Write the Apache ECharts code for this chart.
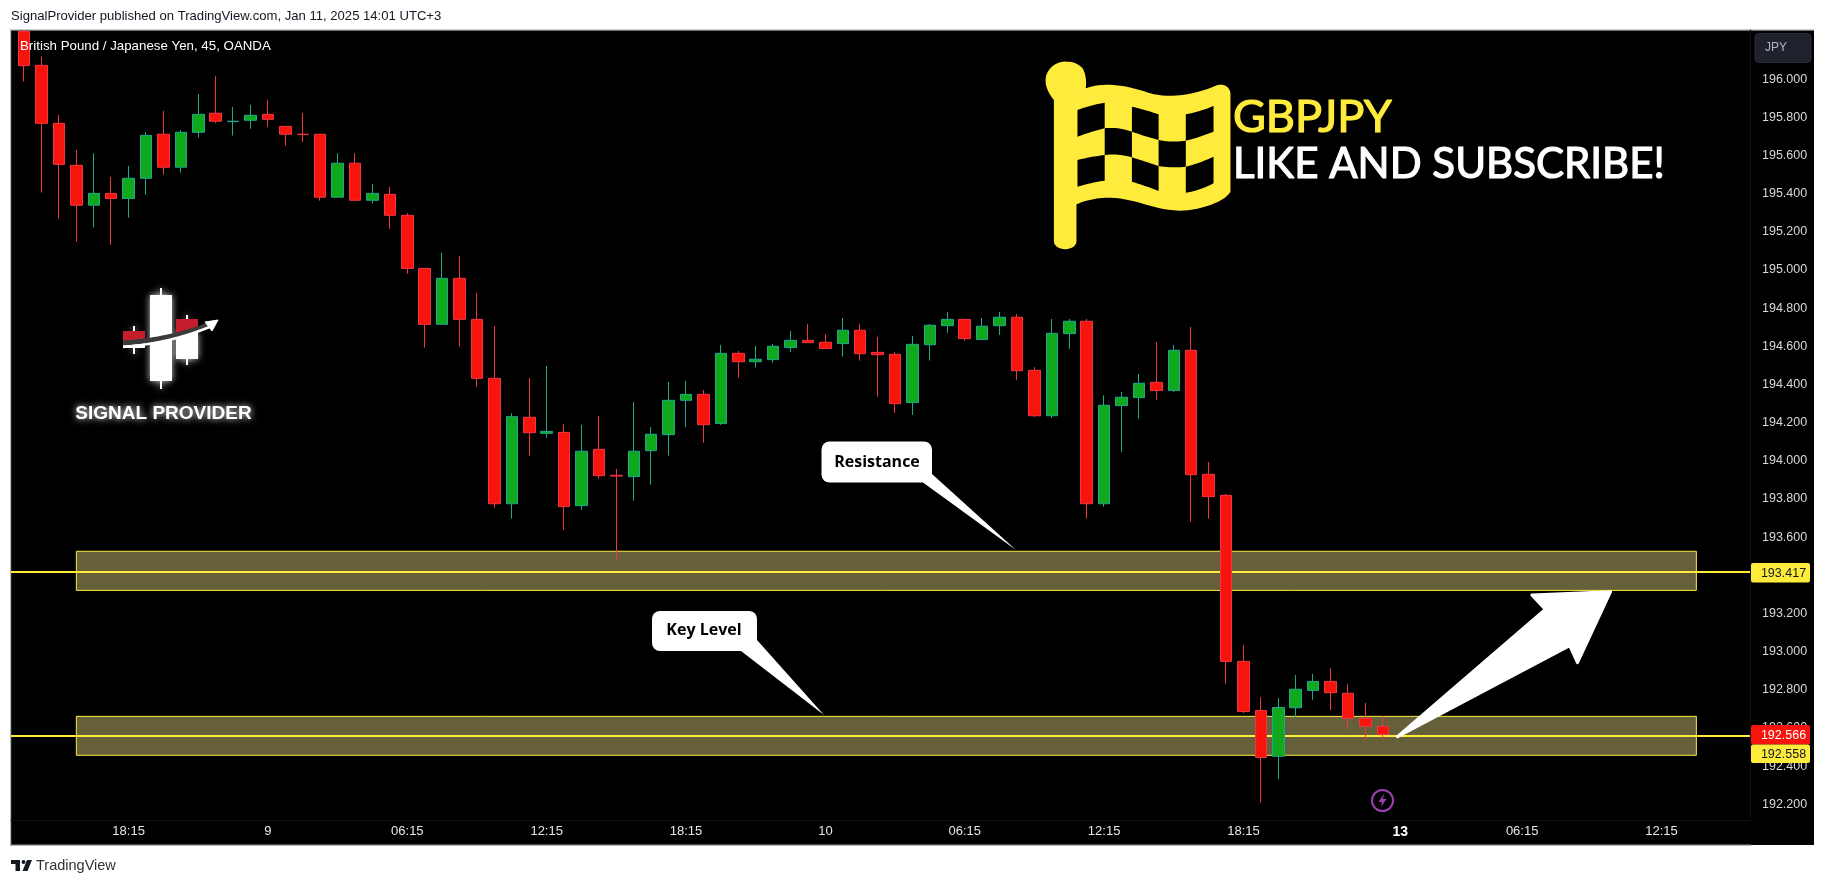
<!DOCTYPE html>
<html><head><meta charset="utf-8">
<script src="https://cdn.jsdelivr.net/npm/echarts@6/dist/echarts.min.js"></script>
<style>html,body{margin:0;padding:0;background:#fff}#c{width:1825px;height:885px}</style>
</head><body><div id="c"></div>
<script>
const opens = [196.25,196.072,195.768,195.548,195.339,195.401,195.374,195.480,195.711,195.538,195.721,195.821,195.777,195.784,195.815,195.752,195.711,195.711,195.381,195.559,195.365,195.396,195.286,195.008,194.715,194.956,194.741,194.432,193.775,194.228,194.144,194.149,193.765,194.060,193.924,193.917,194.053,194.137,194.317,194.348,194.195,194.563,194.519,194.530,194.593,194.631,194.621,194.614,194.684,194.568,194.558,194.305,194.608,194.708,194.741,194.635,194.708,194.752,194.474,194.236,194.666,194.731,193.775,194.289,194.331,194.411,194.368,194.579,193.929,193.819,192.949,192.692,192.452,192.706,192.797,192.844,192.782,192.651,192.609];
const closes = [196.070,195.768,195.553,195.339,195.401,195.374,195.480,195.705,195.538,195.721,195.815,195.779,195.779,195.810,195.789,195.711,195.709,195.381,195.559,195.365,195.401,195.286,195.008,194.715,194.956,194.741,194.432,193.775,194.231,194.147,194.154,193.760,194.050,193.922,193.920,194.050,194.139,194.317,194.348,194.189,194.563,194.519,194.532,194.600,194.631,194.619,194.588,194.684,194.561,194.556,194.299,194.610,194.710,194.741,194.640,194.705,194.752,194.472,194.236,194.668,194.731,193.775,194.291,194.333,194.406,194.368,194.579,193.927,193.812,192.949,192.686,192.446,192.708,192.803,192.844,192.785,192.651,192.609,192.566];
const lows = [195.987,195.405,195.269,195.148,195.222,195.132,195.274,195.394,195.499,195.510,195.693,195.770,195.704,195.740,195.749,195.651,195.670,195.363,195.381,195.365,195.347,195.216,194.980,194.593,194.715,194.598,194.388,193.754,193.697,194.027,194.121,193.637,193.742,193.905,193.484,193.791,193.875,194.027,194.177,194.095,194.188,194.436,194.488,194.514,194.570,194.619,194.588,194.546,194.525,194.336,194.251,194.240,194.525,194.670,194.629,194.635,194.659,194.423,194.230,194.224,194.586,193.697,193.760,194.046,194.221,194.319,194.361,193.681,193.697,192.832,192.678,192.209,192.333,192.656,192.747,192.694,192.595,192.539,192.539];
const highs = [196.255,196.118,195.812,195.629,195.611,195.487,195.545,195.723,195.833,195.733,195.922,196.016,195.854,195.864,195.891,195.752,195.822,195.711,195.611,195.611,195.450,195.435,195.297,195.008,195.089,195.073,194.879,194.706,194.249,194.434,194.497,194.193,194.188,194.235,193.957,194.308,194.177,194.413,194.418,194.371,194.607,194.575,194.601,194.612,194.680,194.717,194.664,194.748,194.717,194.649,194.570,194.654,194.717,194.780,194.741,194.748,194.780,194.769,194.490,194.743,194.743,194.743,194.343,194.361,194.455,194.622,194.607,194.701,193.994,193.826,193.035,192.762,192.757,192.878,192.883,192.914,192.830,192.731,192.663];

const yTicks = [192.2,192.4,192.6,192.8,193.0,193.2,193.4,193.6,193.8,194.0,194.2,194.4,194.6,194.8,195.0,195.2,195.4,195.6,195.8,196.0];
const xTickIndex = [6,14,22,30,38,46,54,62,70,79,86,94];
const xTickLabels = ['18:15','9','06:15','12:15','18:15','10','06:15','12:15','18:15','13','06:15','12:15'];

const resistanceZone = [193.526,193.321];
const keyLevelZone = [192.661,192.457];
const zoneStartIndex = 3;
const zoneEndIndex = 96;
const resistanceLine = 193.417;
const keyLevelLine = 192.558;
const lastPrice = 192.566;

const RED='#F7140C', GREEN='#10A81C', REDB='#F23645', GREENB='#1FA88E', YEL='#FFEB3B';
const candles = opens.map((o,i)=>[i,o,closes[i],lows[i],highs[i]]);

// turn a small outline description (M L Q C Z) into points for a polygon shape
function outline(d){
  const t=d.match(/[MLQCZ]|-?[\d.]+/g); let i=0,p=[0,0]; const pts=[];
  const n=()=>parseFloat(t[i++]);
  while(i<t.length){
    const c=t[i++];
    if(c==='M'||c==='L'){p=[n(),n()];pts.push(p);}
    else if(c==='Q'){const a=[n(),n()],b=[n(),n()],s=p;
      for(let k=1;k<=10;k++){const u=k/10,v=1-u;pts.push([v*v*s[0]+2*v*u*a[0]+u*u*b[0],v*v*s[1]+2*v*u*a[1]+u*u*b[1]]);}p=b;}
    else if(c==='C'){const a=[n(),n()],b=[n(),n()],e=[n(),n()],s=p;
      for(let k=1;k<=14;k++){const u=k/14,v=1-u;pts.push([v*v*v*s[0]+3*v*v*u*a[0]+3*v*u*u*b[0]+u*u*u*e[0],v*v*v*s[1]+3*v*v*u*a[1]+3*v*u*u*b[1]+u*u*u*e[1]]);}p=e;}
  }
  return pts;
}
function tag(y0,y1,bg,fg,txt){
  return [
    {type:'rect',z:90,shape:{x:1751,y:y0,width:59,height:y1-y0,r:2},style:{fill:bg}},
    {type:'text',z:91,style:{text:txt,x:1783.5,y:(y0+y1)/2+0.5,fill:fg,font:'12.5px "Liberation Sans"',textAlign:'center',textVerticalAlign:'middle'}}
  ];
}
function callout(box,tail,text,cx,cy){
  return [
    {type:'rect',z:80,shape:{x:box[0],y:box[1],width:box[2],height:box[3],r:8},style:{fill:'#fff'}},
    {type:'polygon',z:80,shape:{points:tail},style:{fill:'#fff'}},
    {type:'text',z:81,style:{text:text,x:cx,y:cy,fill:'#000',font:'bold 16px "Open Sans"',textAlign:'center',textVerticalAlign:'middle'}}
  ];
}
const sq = (p)=>({type:'polygon',z:71,shape:{points:outline(p)},style:{fill:'#000'}});
const flag = {type:'group',x:1020,y:20,scaleX:1/1.948,scaleY:1/3,children:[
  {type:'polygon',z:70,shape:{points:outline('M66 240 C45 200 45 165 62 140 C78 118 108 120 122 145 C128 160 130 185 128 205 C165 185 205 195 250 218 C290 238 340 225 385 195 C400 190 410 205 410 222 L410 515 C400 545 350 572 310 572 C260 570 225 535 175 533 C150 533 130 540 110 553 L110 665 C108 695 68 695 66 665 Z')},style:{fill:YEL}},
  sq('M112 270 Q138 255 165 248 L165 325 Q138 335 112 350 Z'),
  sq('M218 260 Q245 270 270 283 L270 360 Q245 350 218 335 Z'),
  sq('M323 283 Q350 275 377 258 L377 335 Q350 352 323 362 Z'),
  sq('M165 325 Q190 320 218 335 L218 412 Q190 400 165 405 Z'),
  sq('M270 360 Q298 368 323 362 L323 440 Q298 445 270 438 Z'),
  sq('M112 420 Q138 410 165 405 L165 482 Q138 488 112 500 Z'),
  sq('M218 412 Q245 425 270 438 L270 513 Q245 498 218 485 Z'),
  sq('M323 440 Q350 430 377 410 L377 490 Q350 512 323 518 Z')
]};
const glow = {shadowBlur:7,shadowColor:'rgba(255,255,255,0.8)'};
const logoEls = [
  {type:'rect',z:60,shape:{x:160,y:288,width:2,height:101},style:{fill:'#fff',...glow}},
  {type:'rect',z:60,shape:{x:150,y:295,width:22,height:86},style:{fill:'#fff',...glow}},
  {type:'rect',z:60,shape:{x:186,y:315,width:2,height:50},style:{fill:'#fff',...glow}},
  {type:'rect',z:60,shape:{x:176,y:333,width:22,height:26},style:{fill:'#fff',...glow}},
  {type:'rect',z:61,shape:{x:176,y:319,width:22,height:14},style:{fill:'#C41E2E'}},
  {type:'rect',z:60,shape:{x:133,y:326,width:2,height:28},style:{fill:'#fff',...glow}},
  {type:'rect',z:61,shape:{x:123,y:331,width:22,height:10},style:{fill:'#C41E2E'}},
  {type:'rect',z:60,shape:{x:123,y:343,width:22,height:5},style:{fill:'#fff'}},
  {type:'polyline',z:62,shape:{points:outline('M123 343 Q170 340 208 325')},style:{fill:'none',stroke:'#3a3a3a',lineWidth:5}},
  {type:'polyline',z:63,shape:{points:outline('M123 347 Q172 343 212 326')},style:{fill:'none',stroke:'#fff',lineWidth:2.5}},
  {type:'polygon',z:63,shape:{points:[[218,320],[205,322],[212,331]]},style:{fill:'#fff',stroke:'#fff',lineWidth:1}},
  {type:'text',z:60,style:{text:'SIGNAL PROVIDER',x:163.5,y:414,fill:'#fff',font:'bold 19px "Liberation Sans"',textAlign:'center',textVerticalAlign:'middle',textShadowBlur:7,textShadowColor:'#fff'}}
];

const option = {
  animation:false,
  backgroundColor:'#fff',
  grid:{left:11,right:75,top:30,bottom:65,containLabel:false},
  xAxis:{type:'value',min:-0.752,max:99.08,
    axisLine:{show:true,onZero:false,lineStyle:{color:'#101010'}},axisTick:{show:false},splitLine:{show:false},
    axisLabel:{customValues:xTickIndex,margin:5,color:'#e6e6e6',fontFamily:'Liberation Sans',fontSize:13,showMinLabel:true,showMaxLabel:true,
      formatter:v=>{const i=xTickIndex.indexOf(v);const t=i<0?'':xTickLabels[i];return t==='13'?'{b|13}':t;},
      rich:{b:{fontWeight:'bold',fontSize:14,color:'#fff',fontFamily:'Liberation Sans'}}}},
  yAxis:{type:'value',position:'right',min:192.118,max:196.257,
    axisLine:{show:true,onZero:false,lineStyle:{color:'#101010'}},axisTick:{show:false},splitLine:{show:false},
    axisLabel:{customValues:yTicks,margin:12,padding:[2,0,0,0],color:'#d8d8d8',fontFamily:'Liberation Sans',fontSize:12.5,formatter:v=>v.toFixed(3)}},
  series:[
    {type:'line',data:[],z:1,silent:true,
      markArea:{silent:true,z:1,itemStyle:{color:'#655F3A',borderColor:YEL,borderWidth:1},
        data:[[{xAxis:zoneStartIndex,yAxis:resistanceZone[0]},{xAxis:zoneEndIndex,yAxis:resistanceZone[1]}],
              [{xAxis:zoneStartIndex,yAxis:keyLevelZone[0]},{xAxis:zoneEndIndex,yAxis:keyLevelZone[1]}]]},
      markLine:{silent:true,z:1,symbol:'none',label:{show:false},lineStyle:{color:YEL,width:2,type:'solid'},
        data:[{yAxis:resistanceLine},{yAxis:keyLevelLine}]}},
    {type:'candlestick',z:5,clip:true,barWidth:12,encode:{x:0,y:[1,2,3,4]},data:candles,
      itemStyle:{color:GREEN,color0:RED,borderColor:GREENB,borderColor0:REDB,borderWidth:1}}
  ],
  graphic:{elements:[
    {type:'rect',z:-10,shape:{x:11,y:30,width:1803,height:815},style:{fill:'#000'}},
    {type:'rect',z:-9,shape:{x:10,y:29.5,width:1804,height:1.2},style:{fill:'#9a9a9a'}},
    {type:'rect',z:-9,shape:{x:10,y:29.5,width:1.2,height:816},style:{fill:'#b5b5b5'}},
    {type:'rect',z:-9,shape:{x:10,y:844.5,width:1741,height:1.2},style:{fill:'#9a9a9a'}},
    {type:'text',z:50,style:{text:'SignalProvider published on TradingView.com, Jan 11, 2025 14:01 UTC+3',x:11,y:16.5,fill:'#131722',font:'13.1px "Liberation Sans"',textVerticalAlign:'middle'}},
    {type:'text',z:50,style:{text:'British Pound / Japanese Yen, 45, OANDA',x:20,y:46.5,fill:'#fff',font:'13.3px "Liberation Sans"',textVerticalAlign:'middle'}},
    {type:'rect',z:50,shape:{x:1755,y:33.5,width:56,height:29,r:4},style:{fill:'#1E222D',stroke:'#2A2E39',lineWidth:1}},
    {type:'text',z:51,style:{text:'JPY',x:1765,y:48,fill:'#B2B5BE',font:'12px "Liberation Sans"',textVerticalAlign:'middle'}},
    flag,
    {type:'text',z:72,style:{text:'GBPJPY',x:1233,y:117.5,fill:YEL,stroke:YEL,lineWidth:1.2,font:'45px "Lato"',textVerticalAlign:'middle'}},
    {type:'text',z:72,style:{text:'LIKE AND SUBSCRIBE!',x:1233,y:164.5,fill:'#fff',stroke:'#fff',lineWidth:1.2,font:'42px "Lato"',textVerticalAlign:'middle'}},
    ...logoEls,
    ...callout([821.5,441.5,110.5,41],[[932,474],[1016,550],[923,482.5],[920,470]],'Resistance',877,462),
    ...callout([652,611,105,40],[[757,640],[824,715],[741,651],[740,636]],'Key Level',704,630.5),
    {type:'polygon',z:82,shape:{points:[[1397.5,736.7],[1545.2,609.3],[1531.8,595],[1610.6,591.7],[1577.5,662.7],[1569.7,645.7]]},style:{fill:'#fff',stroke:'#fff',lineWidth:3,lineJoin:'round'}},
    {type:'circle',z:60,shape:{cx:1382.5,cy:800.5,r:10.5},style:{fill:'none',stroke:'#9C3FB0',lineWidth:2}},
    {type:'polygon',z:60,shape:{points:[[1384,794],[1378.5,802],[1382,802],[1381,807],[1386.5,799],[1383,799]]},style:{fill:'#9C3FB0'}},
    ...tag(563,582.5,YEL,'#131722',resistanceLine.toFixed(3)),
    ...tag(725,744.5,'#F7140C','#fff',lastPrice.toFixed(3)),
    ...tag(744.5,763,YEL,'#131722',keyLevelLine.toFixed(3)),
    {type:'polygon',z:50,shape:{points:[[11,860],[20,860],[20,871],[15.5,871],[15.5,864],[11,864]]},style:{fill:'#131722'}},
    {type:'polygon',z:50,shape:{points:[[27,860],[32,860],[27.5,871],[22.5,871]]},style:{fill:'#131722'}},
    {type:'circle',z:50,shape:{cx:23.5,cy:862,r:2},style:{fill:'#131722'}},
    {type:'text',z:50,style:{text:'TradingView',x:36,y:866,fill:'#333',font:'14.5px "Liberation Sans"',textVerticalAlign:'middle'}}
  ]}
};
echarts.init(document.getElementById('c'),null,{renderer:'canvas'}).setOption(option);
</script></body></html>
